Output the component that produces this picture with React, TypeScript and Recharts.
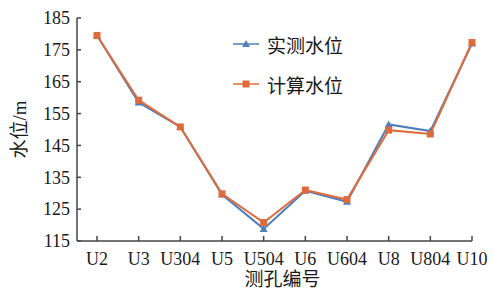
import { LineChart, Line, XAxis, YAxis, Legend, Label } from 'recharts'

const wells = ['U2', 'U3', 'U304', 'U5', 'U504', 'U6', 'U604', 'U8', 'U804', 'U10']
const measured = [179.5, 158.5, 150.8, 129.6, 118.8, 130.8, 127.3, 151.6, 149.5, 177]
const computed = [179.5, 159.2, 150.8, 129.8, 120.8, 131, 128, 149.8, 148.6, 177.3]
const yTicks = [115, 125, 135, 145, 155, 165, 175, 185]

const BLUE = '#4f7fbd'
const ORANGE = '#df6b3c'
const AXIS = '#444'
const TEXT = '#1a1a1a'
const FONT = '"Times New Roman", "Liberation Serif", "Noto Sans CJK SC", serif'

const data = wells.map((w, i) => ({ well: w, measured: measured[i], computed: computed[i] }))

const Triangle = (props: any) => {
    const { cx, cy, index } = props
    return <path key={`t-${index}`} d={`M${cx},${cy - 4} L${cx + 4},${cy + 3} L${cx - 4},${cy + 3} Z`} fill={BLUE} />
}

const Square = (props: any) => {
    const { cx, cy, index } = props
    return <rect key={`s-${index}`} x={cx - 3.5} y={cy - 3.5} width={7} height={7} fill={ORANGE} />
}

// ticks point inward, so draw the little mark together with the label
const X_GAP = 11
const XTick = (props: any) => {
    const { x, y, payload } = props
    const axisY = y - X_GAP
    return (
        <g>
            <line x1={x} y1={axisY} x2={x} y2={axisY - 5} stroke={AXIS} strokeWidth={1.5} />
            <text x={x} y={y} dy="0.71em" textAnchor="middle" fill={TEXT} fontSize={18} fontFamily={FONT}>{payload.value}</text>
        </g>
    )
}

const Y_GAP = 7
const YTick = (props: any) => {
    const { x, y, payload } = props
    const axisX = x + Y_GAP
    return (
        <g>
            <line x1={axisX} y1={y} x2={axisX + 4} y2={y} stroke={AXIS} strokeWidth={1.5} />
            <text x={x} y={y} dy="0.35em" textAnchor="end" fill={TEXT} fontSize={18} fontFamily={FONT}>{payload.value}</text>
        </g>
    )
}

const legendItems = [
    { name: '实测水位', color: BLUE, shape: 'tri' },
    { name: '计算水位', color: ORANGE, shape: 'sq' },
]

const LegendBox = () => (
    <div style={{ fontFamily: FONT, fontSize: 19, color: TEXT }}>
        {legendItems.map((it) => (
            <div key={it.name} style={{ display: 'flex', alignItems: 'center', height: 40 }}>
                <svg width={26} height={10} style={{ marginRight: 8 }}>
                    <line x1={0} y1={5} x2={26} y2={5} stroke={it.color} strokeWidth={1.5} />
                    {it.shape === 'tri'
                        ? <path d="M13,1 L17,8 L9,8 Z" fill={it.color} />
                        : <rect x={9.5} y={1.5} width={7} height={7} fill={it.color} />}
                </svg>
                <span>{it.name}</span>
            </div>
        ))}
    </div>
)

export default function App() {
    return (
        <div style={{ position: 'absolute', left: 0, top: 0, background: '#fff' }}>
            <LineChart width={493} height={296} data={data} margin={{ top: 18, right: 21, bottom: 25, left: 20 }}>
                <XAxis
                    dataKey="well"
                    scale="point"
                    padding={{ left: 20, right: 0 }}
                    interval={0}
                    height={30}
                    stroke={AXIS}
                    strokeWidth={1.5}
                    tickLine={false}
                    tickSize={0}
                    tickMargin={X_GAP}
                    tick={<XTick />}
                >
                    <Label value="测孔编号" position="insideBottom" offset={0} dx={8} dy={15} style={{ fill: TEXT, fontSize: 19, fontFamily: FONT }} />
                </XAxis>
                <YAxis
                    domain={[115, 185]}
                    ticks={yTicks}
                    width={57}
                    stroke={AXIS}
                    strokeWidth={1.5}
                    tickLine={false}
                    tickSize={0}
                    tickMargin={Y_GAP}
                    tick={<YTick />}
                >
                    <Label value="水位/m" angle={-90} position="insideLeft" offset={-1} style={{ fill: TEXT, fontSize: 19, fontFamily: FONT, textAnchor: 'middle' }} />
                </YAxis>
                <Legend
                    content={<LegendBox />}
                    layout="horizontal"
                    verticalAlign="middle"
                    align="center"
                    wrapperStyle={{ left: 233, top: 24, width: 140 }}
                />
                <Line dataKey="measured" name="实测水位" stroke={BLUE} strokeWidth={2} dot={Triangle} isAnimationActive={false} />
                <Line dataKey="computed" name="计算水位" stroke={ORANGE} strokeWidth={2} dot={Square} isAnimationActive={false} />
            </LineChart>
        </div>
    )
}
